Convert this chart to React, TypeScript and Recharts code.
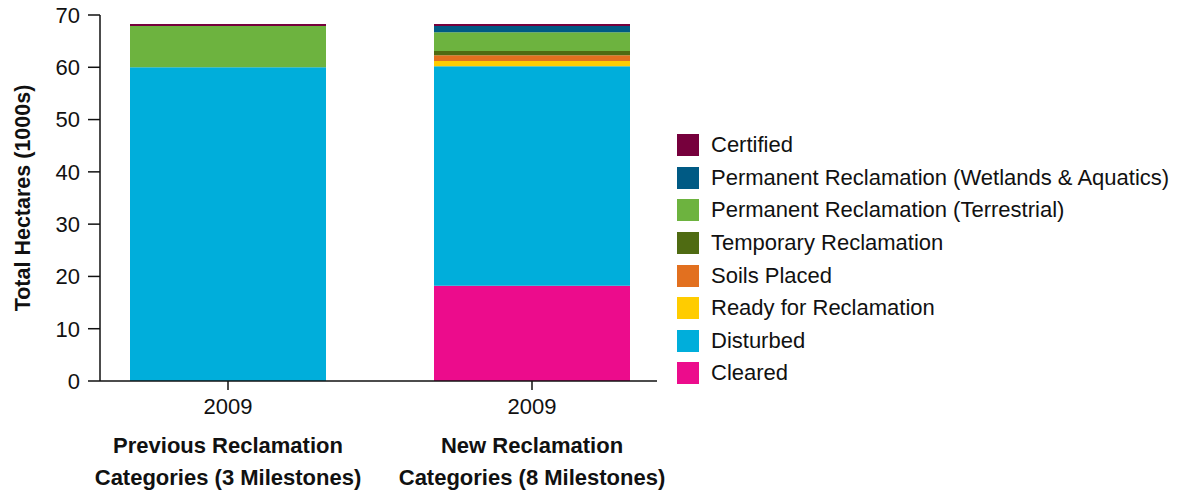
import { BarChart, Bar, XAxis, YAxis, Legend } from 'recharts';

const groups = ['prev', 'new'];
const years = ['2009', '2009'];
const groupLabels = [
  ['Previous Reclamation', 'Categories (3 Milestones)'],
  ['New Reclamation', 'Categories (8 Milestones)'],
];

// values in 1000s of hectares, [previous, new]
const cleared = [0, 18.2];
const disturbed = [60.0, 42.0];
const ready = [0, 1.0];
const soils = [0, 1.1];
const temporary = [0, 0.8];
const terrestrial = [7.9, 3.6];
const wetlands = [0, 1.2];
const certified = [0.4, 0.4];

const yTicks = [0, 10, 20, 30, 40, 50, 60, 70];

const series = [
  { key: 'cleared', name: 'Cleared', color: '#EC0C8C', values: cleared },
  { key: 'disturbed', name: 'Disturbed', color: '#00AEDB', values: disturbed },
  { key: 'ready', name: 'Ready for Reclamation', color: '#FFCC00', values: ready },
  { key: 'soils', name: 'Soils Placed', color: '#E2701F', values: soils },
  { key: 'temporary', name: 'Temporary Reclamation', color: '#4F6B12', values: temporary },
  { key: 'terrestrial', name: 'Permanent Reclamation (Terrestrial)', color: '#6DB33F', values: terrestrial },
  { key: 'wetlands', name: 'Permanent Reclamation (Wetlands & Aquatics)', color: '#005A84', values: wetlands },
  { key: 'certified', name: 'Certified', color: '#76003C', values: certified },
];

const data = groups.map((g, i) => {
  const row: any = { group: g };
  series.forEach((s) => (row[s.key] = s.values[i]));
  return row;
});

const FONT = '"Liberation Sans", Arial, Helvetica, sans-serif';
const FS = 22;

const GroupTick = ({ x, y, index }: any) => (
  <g transform={`translate(${x},${y})`}>
    <text textAnchor="middle" dy={22} fontSize={FS} fill="#111" fontFamily={FONT}>
      {years[index]}
    </text>
    <text textAnchor="middle" dy={61} fontSize={FS} fontWeight={700} fill="#111" fontFamily={FONT}>
      {groupLabels[index][0]}
    </text>
    <text textAnchor="middle" dy={93} fontSize={FS} fontWeight={700} fill="#111" fontFamily={FONT}>
      {groupLabels[index][1]}
    </text>
  </g>
);

// legend reads top-down in reverse stacking order
const LegendList = ({ payload }: any) => {
  const byKey: any = {};
  (payload || []).forEach((p: any) => (byKey[p.dataKey] = p));
  const items = [...series].reverse();
  return (
    <div style={{ fontFamily: FONT }}>
      {items.map((s) => (
        <div key={s.key} style={{ display: 'flex', alignItems: 'center', height: 32.6 }}>
          <span
            style={{
              width: 22,
              height: 22,
              background: byKey[s.key]?.color || s.color,
              display: 'inline-block',
              marginRight: 12,
            }}
          />
          <span style={{ fontSize: FS, color: '#111', whiteSpace: 'nowrap' }}>{s.name}</span>
        </div>
      ))}
    </div>
  );
};

export default function App() {
  return (
    <div style={{ width: 1174, height: 484, background: '#fff' }}>
      <BarChart
        width={1174}
        height={484}
        data={data}
        margin={{ top: 7, right: 525, left: 0, bottom: 11 }}
      >
        <XAxis
          dataKey="group"
          height={100}
          padding={{ left: -24, right: -27 }}
          axisLine={{ stroke: '#111', strokeWidth: 1.5 }}
          tickLine={{ stroke: '#111', strokeWidth: 1.5 }}
          tickSize={9}
          tickMargin={2}
          interval={0}
          tick={<GroupTick />}
        />
        <YAxis
          width={92}
          domain={[0, 70]}
          ticks={yTicks}
          interval={0}
          axisLine={{ stroke: '#111', strokeWidth: 1.5 }}
          tickLine={{ stroke: '#111', strokeWidth: 1.5 }}
          tickSize={12}
          tickMargin={8}
          tick={{ fontSize: FS, fill: '#111', fontFamily: FONT }}
          label={{
            value: 'Total Hectares (1000s)',
            angle: -90,
            position: 'center',
            dx: -32,
            style: { fontSize: 21.5, fontWeight: 700, fill: '#111', fontFamily: FONT, textAnchor: 'middle' },
          }}
        />
        <Legend
          layout="vertical"
          align="center"
          verticalAlign="middle"
          content={<LegendList />}
          wrapperStyle={{ left: 669, top: 121, width: 505 }}
        />
        {series.map((s) => (
          <Bar
            key={s.key}
            dataKey={s.key}
            name={s.name}
            stackId="a"
            fill={s.color}
            barSize={196}
            isAnimationActive={false}
          />
        ))}
      </BarChart>
    </div>
  );
}
